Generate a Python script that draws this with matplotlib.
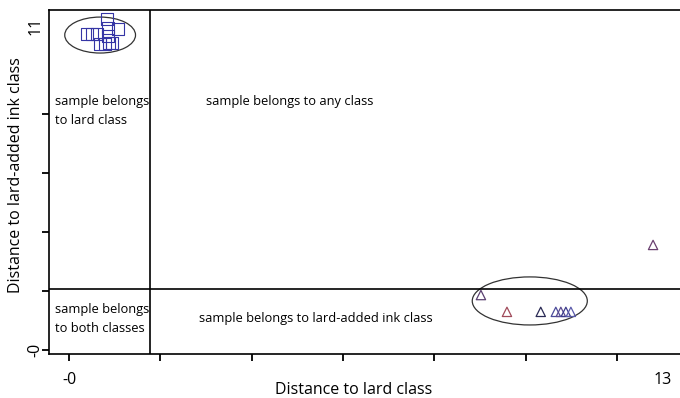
import matplotlib
matplotlib.use("Agg")
import matplotlib.pyplot as plt
from matplotlib.patches import Ellipse

# Data
lard_x = [0.39, 0.50, 0.61, 0.83, 0.85, 0.85, 1.07, 0.68, 0.79, 0.88, 0.94]
lard_y = [10.71, 10.71, 10.71, 11.22, 10.92, 10.64, 10.88, 10.37, 10.37, 10.41, 10.41]
ink_x = [9.02, 9.59, 10.33, 10.66, 10.77, 10.88, 10.99, 12.79]
ink_y = [1.86, 1.29, 1.29, 1.29, 1.29, 1.29, 1.29, 3.56]
ink_colors = ['#5a4070', '#a04a5a', '#2a2a55', '#4a4a9a', '#5a4a90', '#3a3a8a', '#5a5aaa', '#6a4070']
x_thresh = 1.77
y_thresh = 2.07
xticks = [0, 2, 4, 6, 8, 10, 12, 13]
xticklabels = ['-0', '', '', '', '', '', '', '13']
yticks = [0, 2, 4, 6, 8, 11]
yticklabels = ['-0', '', '', '', '', '11']

plt.rcParams['font.family'] = ['Open Sans', 'DejaVu Sans']

fig = plt.figure(figsize=(6.8, 3.98), dpi=100)
ax = fig.add_axes([49/680, 44/398, 631/680, 344/398])
ax.set_xlim(-0.44, 13.38)
ax.set_ylim(-0.14, 11.53)

ax.scatter(lard_x, lard_y, marker='s', s=70, facecolors='none', edgecolors='#3535a5', linewidths=0.8, zorder=3)
ax.scatter(ink_x, ink_y, marker='^', s=45, facecolors='none', edgecolors=ink_colors, linewidths=0.9, zorder=3)

ax.add_patch(Ellipse((0.68, 10.68), 1.55, 1.22, fill=False, edgecolor='#333333', lw=0.9))
ax.add_patch(Ellipse((10.09, 1.66), 2.52, 1.63, fill=False, edgecolor='#333333', lw=0.9))

ax.axvline(x_thresh, color='black', lw=1.2)
ax.axhline(y_thresh, color='black', lw=1.2)

fs = 9.3
ax.text(-0.31, 8.12, 'sample belongs\nto lard class', fontsize=fs, va='center', ha='left', linespacing=1.6)
ax.text(3.0, 8.42, 'sample belongs to any class', fontsize=fs, va='center', ha='left')
ax.text(-0.31, 1.05, 'sample belongs\nto both classes', fontsize=fs, va='center', ha='left', linespacing=1.55)
ax.text(2.85, 1.05, 'sample belongs to lard-added ink class', fontsize=fs, va='center', ha='left')

ax.set_xticks(xticks)
ax.set_xticklabels(xticklabels, fontsize=11.5)
ax.set_yticks(yticks)
ax.set_yticklabels(yticklabels, fontsize=11.5, rotation=90, va='center')
ax.xaxis.get_major_ticks()[-1].tick1line.set_visible(False)
ax.yaxis.get_major_ticks()[-1].tick1line.set_visible(False)
ax.tick_params(axis='x', direction='out', length=5, width=1.3, pad=8)
ax.tick_params(axis='y', direction='out', length=5, width=1.3, pad=-1)

ax.set_xlabel('Distance to lard class', fontsize=11.5, va='center')
ax.xaxis.set_label_coords(0.482, -0.105)
ax.set_ylabel('Distance to lard-added ink class', fontsize=11.5, va='center')
ax.yaxis.set_label_coords(-0.053, 0.52)

for s in ax.spines.values():
    s.set_linewidth(1.2)
ax.spines['right'].set_visible(False)

fig.savefig('out.png', dpi=100)
